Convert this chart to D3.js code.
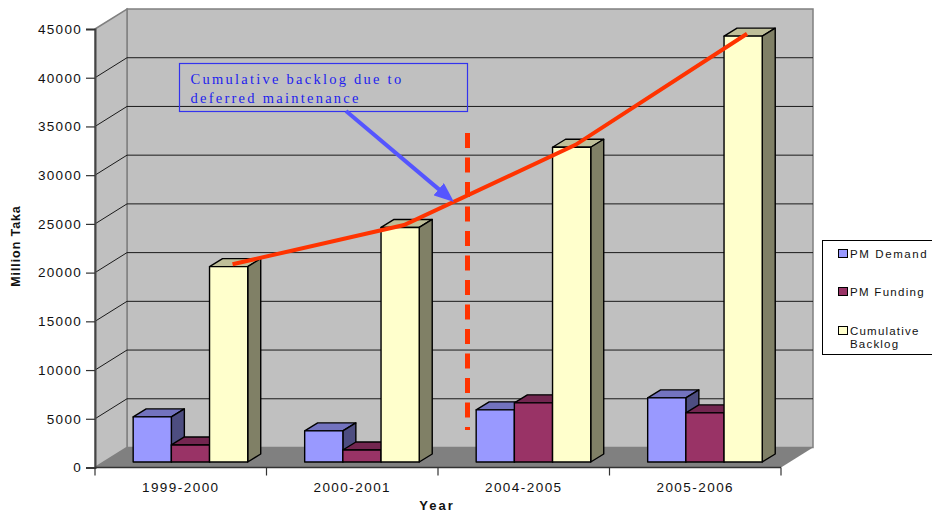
<!DOCTYPE html>
<html>
<head>
<meta charset="utf-8">
<style>
html,body{margin:0;padding:0;background:#fff;overflow:hidden}
svg{display:block}
text{font-family:"Liberation Sans",Arial,sans-serif;fill:#111}
</style>
<script src="https://cdn.jsdelivr.net/npm/d3@7/dist/d3.min.js"></script>
</head>
<body>
<svg id="chart" width="932" height="513"></svg>
<script>
const categories = ["1999-2000", "2000-2001", "2004-2005", "2005-2006"];
const seriesNames = ["PM Demand", "PM Funding", "Cumulative Backlog"];
const pmDemand = [4630, 3190, 5350, 6580];
const pmFunding = [1750, 1230, 6070, 5040];
const cumulativeBacklog = [20050, 24070, 32300, 43700];
const yTicks = [0, 5000, 10000, 15000, 20000, 25000, 30000, 35000, 40000, 45000];
const series = [pmDemand, pmFunding, cumulativeBacklog];
const faceColors = ["#9999ff", "#993366", "#ffffcc"];
const topColors = ["#7373bf", "#732650", "#bfbf99"];
const sideColors = ["#4d4d80", "#4d1a33", "#808066"];

const svg = d3.select("#chart");

// Front plane of the box and the oblique depth of the 3D projection
const x = d3.scaleBand().domain(categories).range([95, 781]).paddingInner(0.332).paddingOuter(0.166);
const y = d3.scaleLinear().domain([0, 45000]).range([467.5, 29]);
const inner = d3.scaleBand().domain(d3.range(series.length)).range([0, x.bandwidth()]);
const depth = { dx: 32, dy: -20 };
const barShift = { dx: 9.7, dy: -5.5 };
const barDepth = { dx: 13, dy: -8 };

const poly = pts => pts.map(p => p.join(",")).join(" ");
const [x0, x1] = x.range();
const yMin = y(0), yMax = y(45000);

// Walls and floor
svg.append("polygon")
  .attr("points", poly([[x0 + depth.dx, yMax + depth.dy], [x1 + depth.dx, yMax + depth.dy], [x1 + depth.dx, yMin + depth.dy], [x0 + depth.dx, yMin + depth.dy]]))
  .attr("fill", "#c0c0c0").attr("stroke", "#808080").attr("stroke-width", 1.5);
svg.append("polygon")
  .attr("points", poly([[x0, yMax], [x0 + depth.dx, yMax + depth.dy], [x0 + depth.dx, yMin + depth.dy], [x0, yMin]]))
  .attr("fill", "#c0c0c0").attr("stroke", "#808080").attr("stroke-width", 1.5);
svg.append("polygon")
  .attr("points", poly([[x0, yMin], [x0 + depth.dx, yMin + depth.dy], [x1 + depth.dx, yMin + depth.dy], [x1, yMin]]))
  .attr("fill", "#808080");

// Gridlines folded over the side and back walls
const grid = svg.append("g").attr("fill", "none").attr("stroke", "#1a1a1a").attr("stroke-width", 1);
yTicks.slice(1, -1).forEach(t => {
  grid.append("polyline")
    .attr("points", poly([[x0, y(t)], [x0 + depth.dx, y(t) + depth.dy], [x1 + depth.dx, y(t) + depth.dy]]));
});

// Value axis
const yAxis = svg.append("g").attr("transform", `translate(${x0},0)`)
  .call(d3.axisLeft(y).tickValues(yTicks).tickFormat(d3.format("d")).tickSize(9).tickPadding(4));
yAxis.select(".domain").attr("stroke", "#444").attr("stroke-width", 2);
yAxis.selectAll(".tick line").attr("stroke", "#333").attr("stroke-width", 1.2);
yAxis.selectAll("text").attr("font-size", 13.5).attr("letter-spacing", 1.3)
  .style("font-family", '"Liberation Sans",Arial,sans-serif').attr("fill", "#111");

// Category axis
const xAxis = svg.append("g").attr("transform", `translate(0,${yMin})`);
xAxis.append("line").attr("x1", x0).attr("x2", x1).attr("stroke", "#333").attr("stroke-width", 1.5);
x.domain().concat(["end"]).forEach((c, i) => {
  const tx = x0 + i * x.step();
  xAxis.append("line").attr("x1", tx).attr("x2", tx).attr("y1", 0).attr("y2", 8).attr("stroke", "#333").attr("stroke-width", 1.2);
});
xAxis.selectAll("text.cat").data(categories).join("text").attr("class", "cat")
  .attr("x", d => x(d) + x.bandwidth() / 2)
  .attr("y", 24).attr("text-anchor", "middle").attr("font-size", 13.5).attr("letter-spacing", 1.45)
  .text(d => d);

// Box-shaped bars, drawn back to front within each group
const bars = svg.append("g").attr("stroke", "#000").attr("stroke-width", 1.4).attr("stroke-linejoin", "round");
categories.forEach((cat, ci) => {
  series.forEach((vals, si) => {
    const left = x(cat) + inner(si) + barShift.dx;
    const right = left + inner.bandwidth();
    const top = y(vals[ci]) + barShift.dy;
    const base = yMin + barShift.dy;
    const b = bars.append("g");
    b.append("polygon").attr("fill", topColors[si])
      .attr("points", poly([[left, top], [left + barDepth.dx, top + barDepth.dy], [right + barDepth.dx, top + barDepth.dy], [right, top]]));
    b.append("polygon").attr("fill", sideColors[si])
      .attr("points", poly([[right, top], [right + barDepth.dx, top + barDepth.dy], [right + barDepth.dx, base + barDepth.dy], [right, base]]));
    b.append("rect").attr("fill", faceColors[si])
      .attr("x", left).attr("y", top).attr("width", inner.bandwidth()).attr("height", base - top);
  });
});

// Trend through the cumulative backlog columns, resting on their top faces
const trend = d3.line()
  .x((d, i) => x(categories[i]) + inner(2) + inner.bandwidth() / 2 + barShift.dx + barDepth.dx * 0.3)
  .y(d => y(d) + barShift.dy + barDepth.dy * 0.3);
svg.append("path").attr("d", trend(cumulativeBacklog))
  .attr("fill", "none").attr("stroke", "#ff3300").attr("stroke-width", 4);

// Divider between the reporting periods
svg.append("line").attr("x1", 467.5).attr("x2", 467.5).attr("y1", 133).attr("y2", 430)
  .attr("stroke", "#ff3300").attr("stroke-width", 5).attr("stroke-dasharray", "15 9.5");

// Callout box
svg.append("rect").attr("x", 179.5).attr("y", 63.5).attr("width", 288).attr("height", 48)
  .attr("fill", "none").attr("stroke", "#3333ee").attr("stroke-width", 1.2);
const note = svg.append("g").attr("font-size", 14.5).attr("letter-spacing", 2.25);
[["Cumulative backlog due to", 84], ["deferred maintenance", 103]].forEach(([t, ty]) => {
  note.append("text").attr("x", 190.5).attr("y", ty).text(t)
    .style("font-family", '"Liberation Serif","Times New Roman",serif').style("fill", "#2222ee");
});

// Callout arrow
const defs = svg.append("defs");
defs.append("marker").attr("id", "arrowhead").attr("markerUnits", "userSpaceOnUse")
  .attr("viewBox", "0 0 20 16").attr("refX", 20).attr("refY", 8)
  .attr("markerWidth", 20).attr("markerHeight", 16).attr("orient", "auto")
  .append("path").attr("d", "M0,0L20,8L0,16Z").attr("fill", "#5555ff");
svg.append("line").attr("x1", 346).attr("y1", 111).attr("x2", 444).attr("y2", 193.6)
  .attr("stroke", "#5555ff").attr("stroke-width", 4);
svg.append("line").attr("x1", 440).attr("y1", 190.2).attr("x2", 454).attr("y2", 202)
  .attr("stroke", "none").attr("marker-end", "url(#arrowhead)");

// Axis titles
svg.append("text").attr("transform", "translate(20,246) rotate(-90)").attr("text-anchor", "middle")
  .attr("font-size", 12.5).attr("font-weight", "bold").attr("letter-spacing", 0.9).text("Million Taka");
svg.append("text").attr("x", 437).attr("y", 510).attr("text-anchor", "middle")
  .attr("font-size", 13).attr("font-weight", "bold").attr("letter-spacing", 2).text("Year");

// Legend
svg.append("rect").attr("x", 822.5).attr("y", 240.5).attr("width", 112).attr("height", 114)
  .attr("fill", "#fff").attr("stroke", "#000").attr("stroke-width", 1);
const legendY = [254, 292, 331];
const legendSpacing = [1.6, 1.3, 1.2];
const legend = svg.append("g").attr("font-size", 11.5);
seriesNames.forEach((name, i) => {
  legend.append("rect").attr("x", 838.5).attr("y", legendY[i] - 4.5).attr("width", 9).attr("height", 8)
    .attr("fill", faceColors[i]).attr("stroke", "#000").attr("stroke-width", 1);
  const parts = i === 2 ? ["Cumulative", "Backlog"] : [name];
  parts.forEach((p, k) => {
    legend.append("text").attr("x", 850).attr("y", legendY[i] + 4 + k * 13)
      .attr("letter-spacing", legendSpacing[i]).text(p);
  });
});
</script>
</body>
</html>
